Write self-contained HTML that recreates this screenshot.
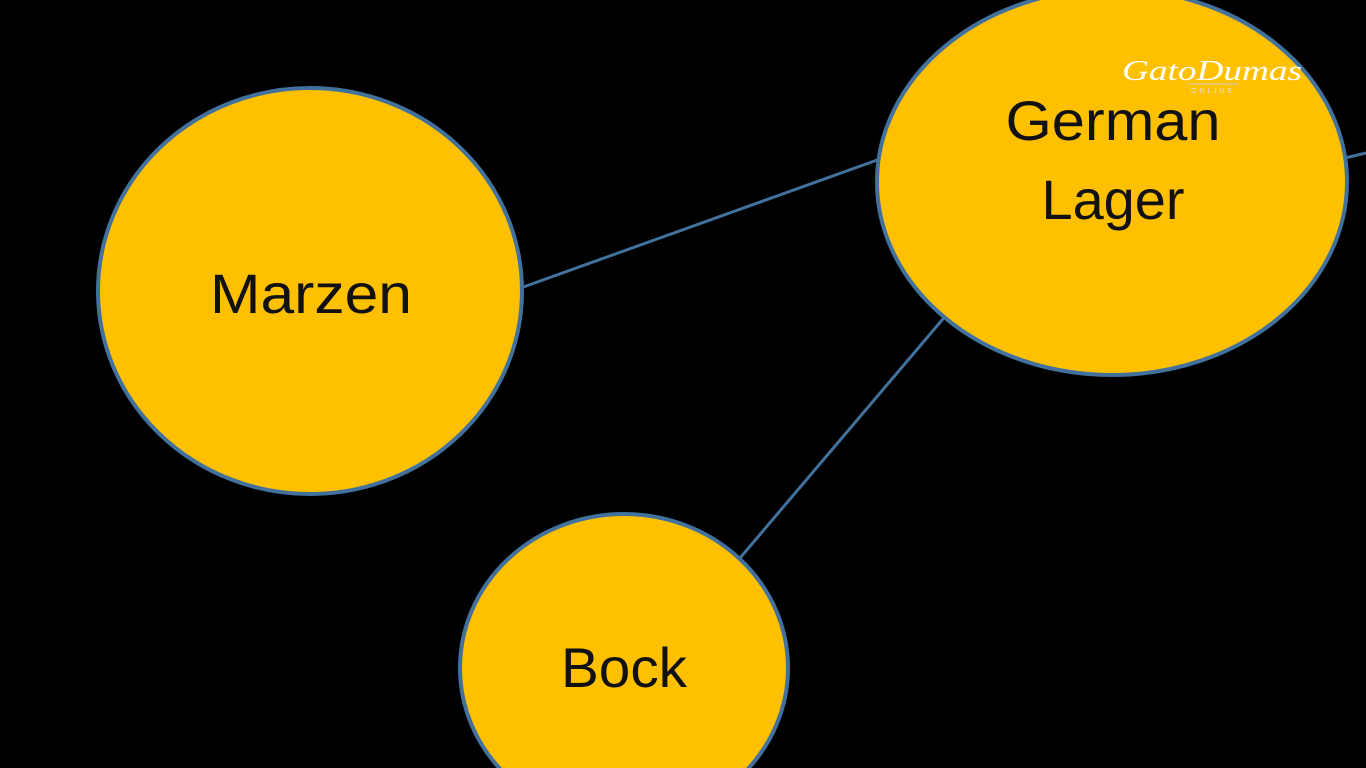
<!DOCTYPE html>
<html><head><meta charset="utf-8"><style>
html,body{margin:0;padding:0;background:#000;width:1366px;height:768px;overflow:hidden}
svg{display:block}
text{font-family:"Liberation Sans",sans-serif;fill:#111}
</style></head><body>
<svg width="1366" height="768" viewBox="0 0 1366 768">
<rect width="1366" height="768" fill="#000"/>
<g stroke="#41719C" stroke-width="3">
<line x1="515" y1="290" x2="880" y2="159"/>
<line x1="948" y1="313" x2="740" y2="558"/>
<line x1="1345" y1="158" x2="1366" y2="153"/>
</g>
<g fill="#FFC000" stroke="#41719C" stroke-width="4">
<ellipse cx="310" cy="291" rx="212" ry="203"/>
<ellipse cx="1112" cy="182" rx="235" ry="193"/>
<ellipse cx="624" cy="668" rx="164" ry="154"/>
</g>
<g font-size="56" text-anchor="middle">
<text x="311" y="313" textLength="202" lengthAdjust="spacingAndGlyphs">Marzen</text>
<text x="1113" y="140" textLength="215" lengthAdjust="spacingAndGlyphs">German</text>
<text x="1113" y="219" textLength="143" lengthAdjust="spacingAndGlyphs">Lager</text>
<text x="624" y="687" textLength="126" lengthAdjust="spacingAndGlyphs">Bock</text>
</g>
<text x="1212" y="80" font-size="28" style="fill:#fff;font-family:'Liberation Serif',serif;font-style:italic" text-anchor="middle" textLength="180" lengthAdjust="spacingAndGlyphs">GatoDumas</text>
<line x1="1188" y1="84" x2="1238" y2="84" stroke="#ccc" stroke-width="1"/>
<text x="1213" y="93" font-size="7" style="fill:#ddd;letter-spacing:3px" text-anchor="middle">ONLINE</text>
</svg>
</body></html>
